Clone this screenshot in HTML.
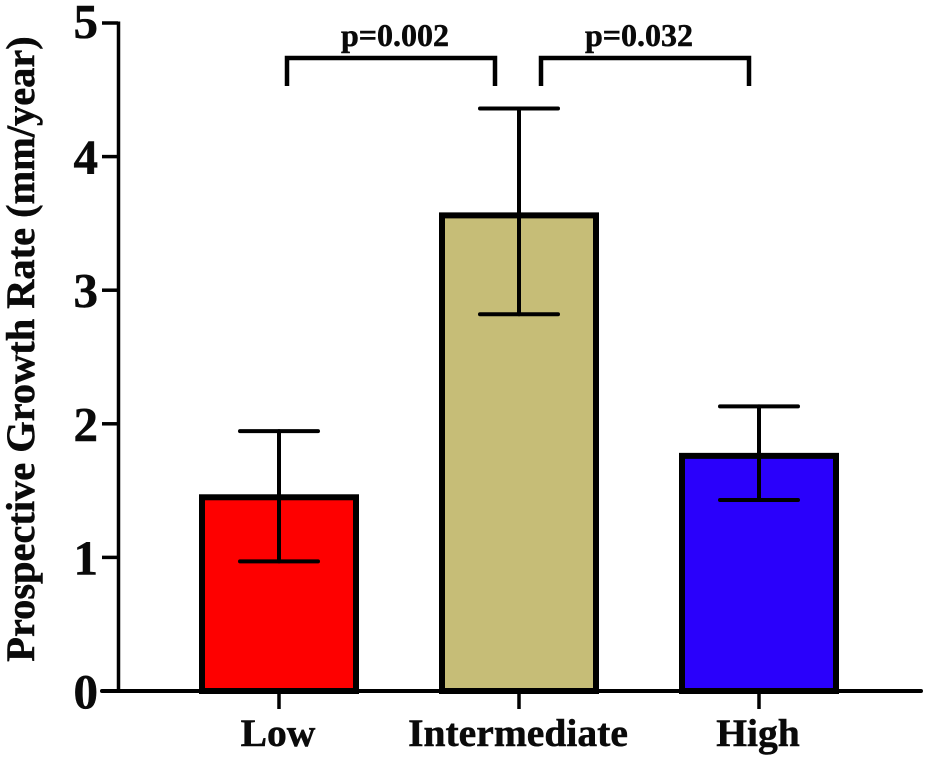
<!DOCTYPE html>
<html>
<head>
<meta charset="utf-8">
<title>Prospective Growth Rate</title>
<style>
html,body{margin:0;padding:0;background:#fff;}
svg{display:block;}
text{font-family:"Liberation Serif",serif;font-weight:bold;fill:#0a0a0a;stroke:#0a0a0a;stroke-width:0.5px;}
</style>
</head>
<body>
<svg id="chart" width="925" height="762" viewBox="0 0 925 762" xmlns="http://www.w3.org/2000/svg"></svg>
<script>
const categories = ["Low", "Intermediate", "High"];
const barValues = [1.45, 3.56, 1.76];
const errorUpper = [1.945, 4.36, 2.13];
const errorLower = [0.97, 2.82, 1.43];
const barColors = ["#fe0000", "#c6bd77", "#2a00fb"];
const yTicks = [0, 1, 2, 3, 4, 5];
const comparisonLabels = ["p=0.002", "p=0.032"];

const NS = "http://www.w3.org/2000/svg";
const svg = document.getElementById("chart");
const y = v => 691 - v * 133.6;
const x = i => 279 + i * 240;

function add(tag, attrs, parent) {
  const el = document.createElementNS(NS, tag);
  for (const k in attrs) el.setAttribute(k, attrs[k]);
  (parent || svg).appendChild(el);
  return el;
}

// bars
categories.forEach((c, i) => {
  const bar = add("rect", {x: x(i) - 77, y: y(barValues[i]), width: 154, height: 691 - y(barValues[i]), fill: barColors[i], stroke: "#000", "stroke-width": 6});
  
  
});

// error bars
categories.forEach((c, i) => {
  const g = add("g", {stroke: "#000", "stroke-width": 4, "stroke-linecap": "round"});
  
  
  add("line", {x1: x(i), x2: x(i), y1: y(errorUpper[i]), y2: y(errorLower[i])}, g);
  add("line", {x1: x(i) - 39, x2: x(i) + 39, y1: y(errorUpper[i]), y2: y(errorUpper[i])}, g);
  add("line", {x1: x(i) - 39, x2: x(i) + 39, y1: y(errorLower[i]), y2: y(errorLower[i])}, g);
});

// y axis
const yAxis = add("line", {x1: 118.5, x2: 118.5, y1: y(5) - 1.5, y2: 693, stroke: "#000", "stroke-width": 3.5});



yTicks.forEach(t => {
  const tick = add("line", {x1: 102, x2: 118, y1: y(t), y2: y(t), stroke: "#000", "stroke-width": 3.5});
  
  
  const label = add("text", {x: 98, y: y(t) + (t === 5 ? 15 : 17), "text-anchor": "end", "font-size": 49});
  label.textContent = t;
  
  
});

// x axis
const xAxis = add("line", {x1: 102, x2: 921, y1: 691, y2: 691, stroke: "#000", "stroke-width": 4, "stroke-linecap": "round"});



categories.forEach((c, i) => {
  const tick = add("line", {x1: x(i), x2: x(i), y1: 691, y2: 709, stroke: "#000", "stroke-width": 3.5});
  
  
  const label = add("text", {x: x(i) - 1, y: 746, "text-anchor": "middle", "font-size": 39.6});
  label.textContent = c;
  
  
});

// y axis title
const title = add("text", {transform: "translate(34,349) rotate(-90)", "text-anchor": "middle", "font-size": 40.4});
title.textContent = "Prospective Growth Rate (mm/year)";



// significance brackets
const bracketLeft = add("path", {d: "M287 86V58H495V86", fill: "none", stroke: "#000", "stroke-width": 4.5, "stroke-linejoin": "miter"});


const bracketRight = add("path", {d: "M541 86V58H749V86", fill: "none", stroke: "#000", "stroke-width": 4.5, "stroke-linejoin": "miter"});



const pLeft = add("text", {x: 395, y: 46, "text-anchor": "middle", "font-size": 32});
pLeft.textContent = comparisonLabels[0];


const pRight = add("text", {x: 639, y: 46, "text-anchor": "middle", "font-size": 32});
pRight.textContent = comparisonLabels[1];


</script>
</body>
</html>
